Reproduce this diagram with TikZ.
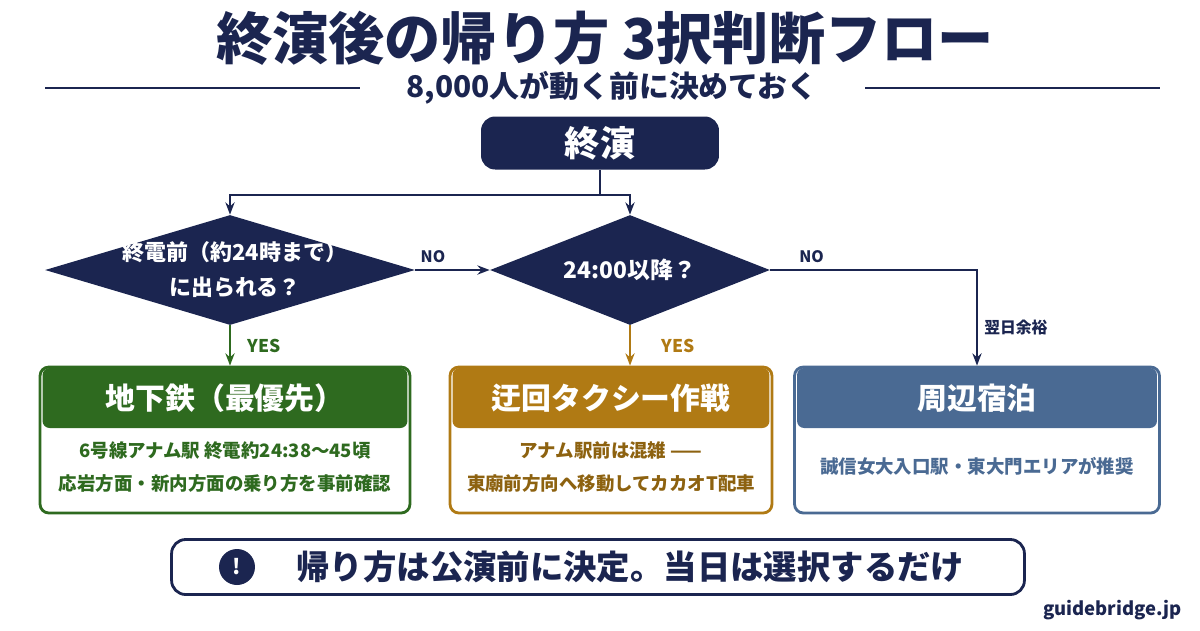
\documentclass[tikz,border=0pt]{standalone}
\usepackage{fontspec}
\setmainfont{Noto Sans CJK JP}
\usetikzlibrary{positioning,shapes.geometric,arrows.meta}
\definecolor{navy}{HTML}{1B2550}
\definecolor{grn}{HTML}{2E6A1F}
\definecolor{gold}{HTML}{B07A14}
\definecolor{slate}{HTML}{4A6A93}
\begin{document}
\begin{tikzpicture}[x=0.02cm,y=-0.02cm,
decision/.style={diamond, fill=navy, inner sep=0pt, minimum width=#1, minimum height=2.2cm},
box/.style={draw=#1, line width=1.6pt, rounded corners=5pt, fill=white, minimum width=7.4cm, minimum height=2.92cm},
head/.style={fill=#1, text=white, font=\bfseries\fontsize{17}{20}\selectfont, rounded corners=4pt, minimum height=1.2cm},
body/.style={text=#1, font=\bfseries\fontsize{10.5}{19}\selectfont, align=center},
flow/.style={-{Stealth[length=7pt]}, line width=1.6pt, draw=navy},
]
\useasboundingbox (0,0) rectangle (1200,630);
% title
\node[text=navy, font=\bfseries\fontsize{32}{36}\selectfont] (title) at (605,38) {終演後の帰り方 3択判断フロー};
\node[text=navy, font=\bfseries\fontsize{17}{20}\selectfont] (sub) at (612,88) {8,000人が動く前に決めておく};
\draw[navy, line width=1pt] (45,88) -- (360,88);
\draw[navy, line width=1pt] (865,88) -- (1160,88);
% start
\node[fill=navy, rounded corners=8pt, minimum width=4.76cm, minimum height=1.06cm, text=white, font=\bfseries\fontsize{20}{22}\selectfont] (start) at (600,143) {終演};
% decisions
\node[decision=7.4cm] (d1) at (230,270) {};
\node[text=white, font=\bfseries\fontsize{12.5}{20}\selectfont, align=center] (d1t) at (235,270) {終電前（約24時まで）\\に出られる？};
\node[decision=5.6cm] (d2) at (630,270) {};
\node[text=white, font=\bfseries\fontsize{13}{15}\selectfont] (d2t) at (630,270) {24:00以降？};
\coordinate (split) at (600,195);
\draw[flow] (start.south) -- (split) -| (d1.north);
\draw[flow] (split) -| (d2.north);
% boxes
\node[box=grn] (b1) at (225,440) {};
\node[box=gold, minimum width=6.44cm] (b2) at (611,440) {};
\node[box=slate, minimum width=7.3cm] (b3) at (977,440) {};
\node[head=grn, minimum width=7.3cm] (h1) at (225,398) {地下鉄（最優先）};
\node[head=gold, minimum width=6.34cm] (h2) at (611,398) {迂回タクシー作戦};
\node[head=slate, minimum width=7.2cm] (h3) at (977,398) {周辺宿泊};
\node[body=grn] (t1) at (225,467) {6号線アナム駅 終電約24:38〜45頃\\応岩方面・新内方面の乗り方を事前確認};
\node[body=gold!80!black] (t2) at (611,467) {アナム駅前は混雑 ——\\東廟前方向へ移動してカカオT配車};
\node[body=slate] (t3) at (977,466) {誠信女大入口駅・東大門エリアが推奨};
% connectors
\draw[flow] (d1.east) -- node[above left, font=\bfseries\small, text=navy] {NO} (d2.west);
\draw[flow] (d2.east) -| node[above, pos=0.1, font=\bfseries\small, text=navy] {NO} node[right, font=\bfseries\small, text=navy, pos=0.8] {翌日余裕} (b3.north);
\draw[flow, draw=grn] (d1.south) -- node[right=6pt, font=\bfseries\normalsize, text=grn] {YES} (d1.south |- b1.north);
\draw[flow, draw=gold] (d2.south) -- node[right=14pt, font=\bfseries\normalsize, text=gold] {YES} (d2.south |- b2.north);
% note
\node[draw=navy, line width=1.6pt, rounded corners=8pt, minimum width=17.06cm, minimum height=1.1cm] (note) at (598,567) {};
\node[circle, fill=navy, minimum size=0.72cm, inner sep=0pt, text=white, font=\bfseries\large] (warn) at (237,567) {!};
\node[text=navy, font=\bfseries\fontsize{19}{22}\selectfont, right=0.7cm of warn] (notet) {帰り方は公演前に決定。当日は選択するだけ};
\node[text=navy, font=\bfseries\fontsize{10.5}{12}\selectfont, anchor=east] (site) at (1188,610) {guidebridge.jp};
\end{tikzpicture}
\end{document}
